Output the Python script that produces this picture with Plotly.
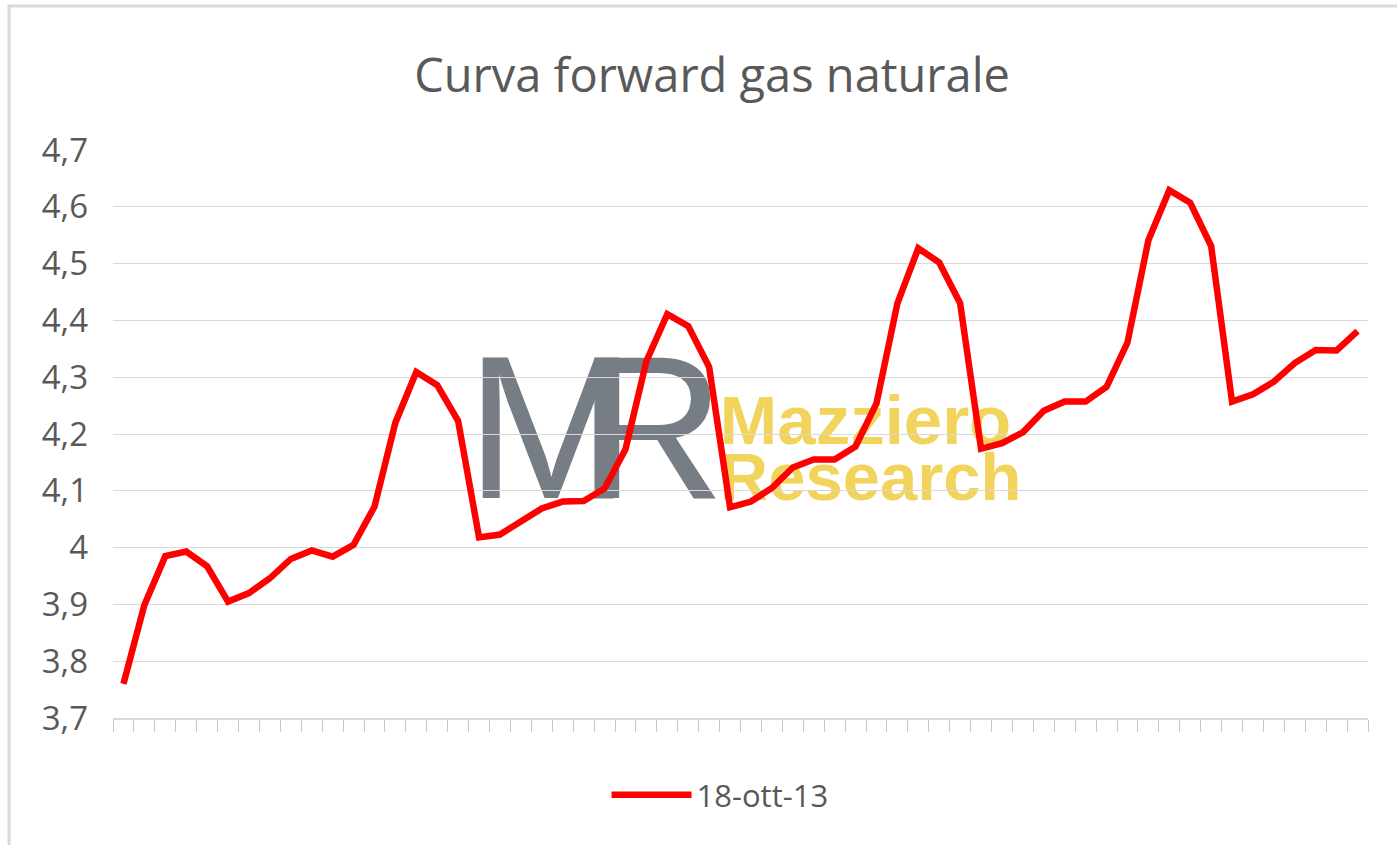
import plotly.graph_objects as go

# ---- data ----
months = [
    "nov-13", "dic-13",
    "gen-14", "feb-14", "mar-14", "apr-14", "mag-14", "giu-14", "lug-14", "ago-14", "set-14", "ott-14", "nov-14", "dic-14",
    "gen-15", "feb-15", "mar-15", "apr-15", "mag-15", "giu-15", "lug-15", "ago-15", "set-15", "ott-15", "nov-15", "dic-15",
    "gen-16", "feb-16", "mar-16", "apr-16", "mag-16", "giu-16", "lug-16", "ago-16", "set-16", "ott-16", "nov-16", "dic-16",
    "gen-17", "feb-17", "mar-17", "apr-17", "mag-17", "giu-17", "lug-17", "ago-17", "set-17", "ott-17", "nov-17", "dic-17",
    "gen-18", "feb-18", "mar-18", "apr-18", "mag-18", "giu-18", "lug-18", "ago-18", "set-18", "ott-18",
]
prices_18_ott_13 = [
    3.760, 3.899, 3.985, 3.993, 3.967, 3.905, 3.920, 3.946, 3.980, 3.995,
    3.984, 4.005, 4.072, 4.220, 4.309, 4.286, 4.223, 4.018, 4.023, 4.046,
    4.069, 4.081, 4.082, 4.104, 4.173, 4.328, 4.411, 4.390, 4.318, 4.071,
    4.081, 4.105, 4.141, 4.155, 4.155, 4.178, 4.254, 4.430, 4.527, 4.502,
    4.430, 4.174, 4.184, 4.203, 4.241, 4.257, 4.257, 4.283, 4.361, 4.541,
    4.629, 4.607, 4.531, 4.257, 4.270, 4.292, 4.325, 4.348, 4.347, 4.381,
]
series_name = "18-ott-13"
title_text = "Curva forward gas naturale"
y_min, y_max, y_step = 3.7, 4.7, 0.1

GRAY_TXT = "#595959"
GRID = "#d9d9d9"
RED = "#ff0000"
LOGO_GRAY = "#767d85"
LOGO_YELLOW = "#f2d35c"

fig = go.Figure()

# ---- watermark (drawn on a hidden subplot underneath the data subplot) ----
fig.add_trace(go.Scatter(
    x=[0.349], y=[0.478], mode="text", text=["M"], textposition="middle center",
    textfont=dict(family="Liberation Sans", size=204, color=LOGO_GRAY),
    showlegend=False, hoverinfo="skip", xaxis="x", yaxis="y"))
fig.add_trace(go.Scatter(
    x=[0.429], y=[0.478], mode="text", text=["R"], textposition="middle center",
    textfont=dict(family="Liberation Sans", size=204, color=LOGO_GRAY),
    showlegend=False, hoverinfo="skip", xaxis="x", yaxis="y"))
fig.add_trace(go.Scatter(
    x=[0.4835], y=[0.512], mode="text", text=["Mazziero"], textposition="middle right",
    textfont=dict(family="Liberation Sans", size=69, color=LOGO_YELLOW, weight="bold"),
    showlegend=False, hoverinfo="skip", xaxis="x", yaxis="y"))
fig.add_trace(go.Scatter(
    x=[0.4835], y=[0.413], mode="text", text=["Research"], textposition="middle right",
    textfont=dict(family="Liberation Sans", size=67, color=LOGO_YELLOW, weight="bold"),
    showlegend=False, hoverinfo="skip", xaxis="x", yaxis="y"))

# ---- data line ----
fig.add_trace(go.Scatter(
    x=months, y=prices_18_ott_13, mode="lines", name=series_name,
    line=dict(color=RED, width=6.5),
    xaxis="x2", yaxis="y2"))

fig.update_layout(
    width=1397, height=845,
    margin=dict(l=113, r=29, t=150, b=127),
    paper_bgcolor="white",
    plot_bgcolor="rgba(0,0,0,0)",
    separators=", ",
    font=dict(family="Open Sans", color=GRAY_TXT),
    title=dict(text=title_text, x=0.5097, xref="container", xanchor="center",
               y=0.911, yref="container", yanchor="middle",
               font=dict(family="Open Sans", size=47, color=GRAY_TXT)),
    xaxis=dict(range=[0, 1], visible=False, fixedrange=True, domain=[0, 1]),
    yaxis=dict(range=[0, 1], visible=False, fixedrange=True, domain=[0, 1]),
    xaxis2=dict(type="category", categoryorder="array", categoryarray=months,
                range=[-0.5, len(months) - 0.5], anchor="y2", domain=[0, 1],
                tickson="boundaries", ticks="outside", ticklen=12, tickwidth=1.3,
                tickcolor="#c8c8c8", showticklabels=False, showgrid=False,
                showline=True, linecolor=GRID, linewidth=1.5, zeroline=False),
    yaxis2=dict(range=[y_min, y_max], dtick=y_step, tick0=y_min, anchor="x2",
                domain=[0, 1], showgrid=True, gridcolor=GRID, gridwidth=1.3,
                zeroline=False, showline=False, ticks="", ticklabelstandoff=24,
                tickfont=dict(family="Open Sans", size=33, color=GRAY_TXT)),
    showlegend=True,
    legend=dict(orientation="h", x=0.4837, xanchor="center", y=-0.1356,
                yanchor="middle", font=dict(family="Open Sans", size=31, color=GRAY_TXT),
                bgcolor="rgba(0,0,0,0)", itemwidth=80),
    shapes=[dict(type="rect", xref="paper", yref="paper",
                 x0=(9 - 113) / 1255, x1=1.2, y0=-0.6, y1=(718 - 6) / 568,
                 line=dict(color=GRID, width=3), fillcolor="rgba(0,0,0,0)",
                 layer="below")],
)

fig.write_html(
    "out.html",
    config={"displayModeBar": False},
    post_script="document.body.style.margin='0';document.body.style.overflow='hidden';",
)
